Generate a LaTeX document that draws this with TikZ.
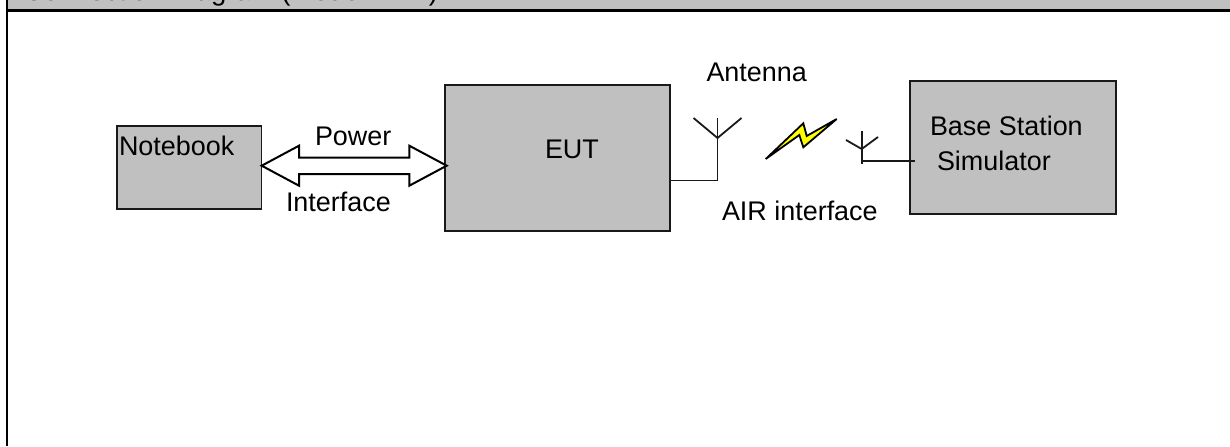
\documentclass[tikz,border=0pt]{standalone}
\usepackage{fontspec}
\setmainfont{Liberation Sans}
\tikzset{
  x=0.75pt,y=-0.75pt,
  lbl/.style={anchor=base west,inner sep=0pt,outer sep=0pt,font=\fontsize{20.2pt}{24pt}\selectfont,text=black},
  unit/.style={draw=black!90,line width=1.35pt,fill=boxgrey,inner sep=0pt,outer sep=0pt,anchor=north west},
  wire/.style={draw=black!90,line width=1.35pt},
  bus/.style={draw=black,line width=1.5pt,fill=white,miter limit=8,line join=miter},
}
\definecolor{boxgrey}{HTML}{C0C0C0}
\definecolor{bolt}{HTML}{FFFF00}
\begin{document}
\begin{tikzpicture}
\useasboundingbox (0,0) rectangle (1230,446);
% header band and frame
\fill[boxgrey] (7,0) rectangle (1230,10);
\begin{scope}
  \clip (7,0) rectangle (1230,10);
  \node[lbl,font=\fontsize{20.6pt}{24pt}\selectfont] (title) at (23.5,1) {Connection Diagram (Model: MM)};
\end{scope}
\draw[black,line width=1.6pt] (1230,10.5) -- (7,10.5);
\draw[black,line width=1.6pt] (7,0) -- (7,446);
% boxes
\node[unit,minimum width=144.5*0.75pt,minimum height=83.3*0.75pt] (nb) at (117,125.7) {};
\node[unit,minimum width=224.4*0.75pt,minimum height=146.3*0.75pt] (eut) at (445.3,84.7) {};
\node[unit,minimum width=206.3*0.75pt,minimum height=133.3*0.75pt] (bs) at (909.7,81) {};
% double arrow between notebook and EUT
\coordinate (busL) at (261.7,165.7);
\coordinate (busR) at (446.7,165.7);
\draw[bus] (busL) -- (299,145.7) -- (299,157.7) -- (409.3,157.7) -- (409.3,145.7) -- (busR)
  -- (409.3,185.7) -- (409.3,174) -- (299,174) -- (299,185.7) -- cycle;
% large antenna
\coordinate (a1) at (717.5,180.5);
\coordinate (a1j) at (717.5,138);
\coordinate (a1t) at (717.5,118);
\coordinate (a1l) at (693.5,118);
\coordinate (a1r) at (741.5,118);
\draw[wire] (eut.east |- a1) -- (a1) -- (a1t);
\draw[wire] (a1l) -- (a1j) -- (a1r);
% small antenna
\coordinate (a2b) at (861.7,164);
\coordinate (a2t) at (861.7,131);
\coordinate (a2j) at (861.7,149);
\coordinate (a2l) at (846,140);
\coordinate (a2r) at (878,137);
\coordinate (a2h) at (861,161);
\coordinate (a2e) at (914.5,161);
\draw[wire] (a2b) -- (a2t);
\draw[wire] (a2l) -- (a2j) -- (a2r);
\draw[wire] (a2h) -- (a2e);
% lightning bolt
\draw[fill=bolt,draw=black,line width=1.35pt,miter limit=10]
  (765.7,159) -- (803.3,123.3) -- (806.7,136) -- (836.7,119) -- (803.3,147.3) -- (799.3,135) -- cycle;
% labels
\node[lbl] (lnb) at (119,155.7) {Notebook};
\node[lbl] (lpw) at (315,145) {Power};
\node[lbl] (lif) at (286,211.7) {Interface};
\node[lbl] (leu) at (545,158) {EUT};
\node[lbl] (lan) at (706.5,81.7) {Antenna};
\node[lbl] (lai) at (722,220.7) {AIR interface};
\node[lbl] (lb1) at (930,135.7) {Base Station};
\node[lbl] (lb2) at (937,170.7) {Simulator};
\end{tikzpicture}
\end{document}
